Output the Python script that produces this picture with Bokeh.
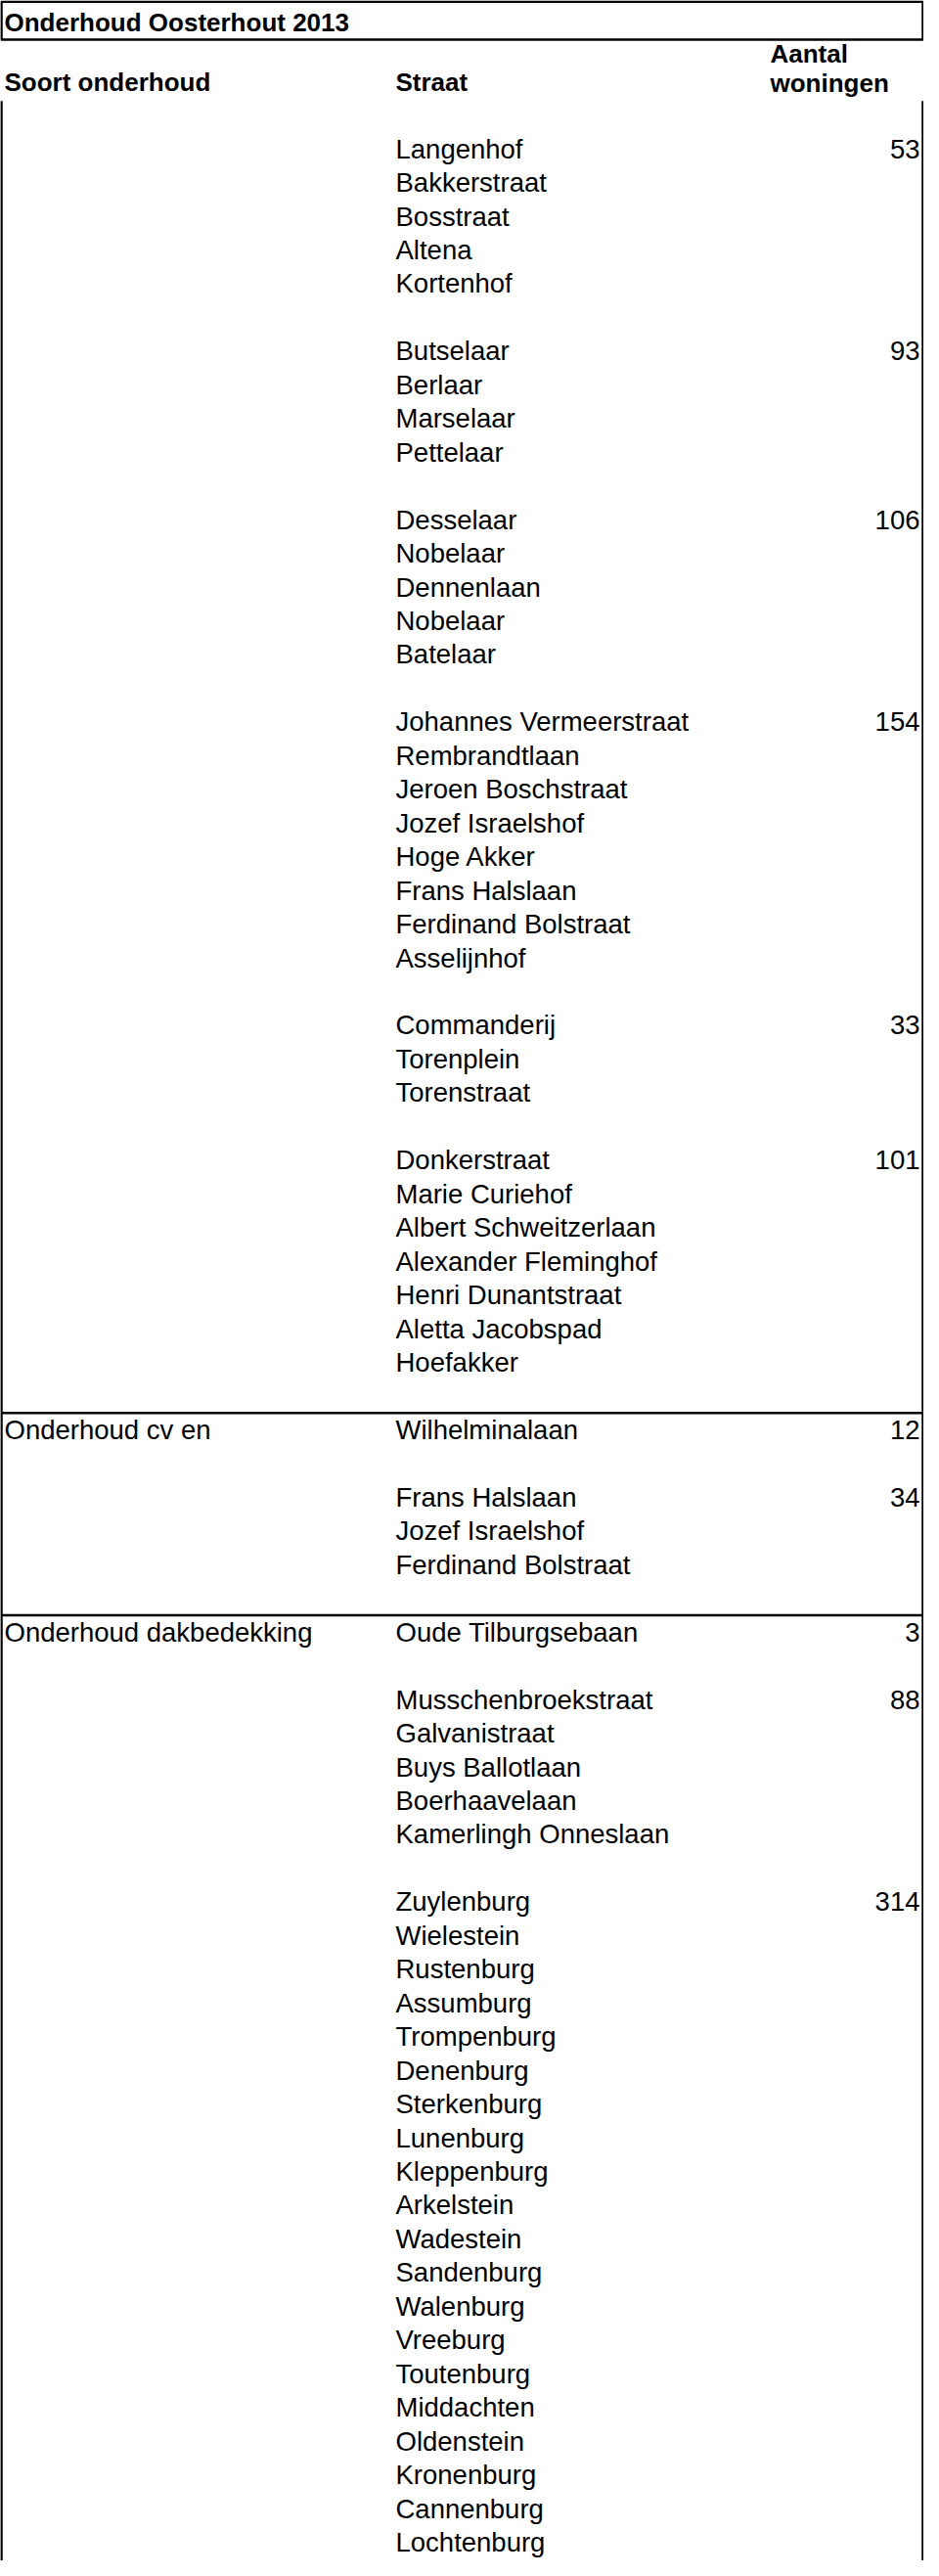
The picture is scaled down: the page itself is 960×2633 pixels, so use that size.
from bokeh.plotting import figure
from bokeh.models import Range1d, ColumnDataSource
from bokeh.core.properties import value
from bokeh.embed import file_html
from bokeh.resources import INLINE

# ---------------- data ----------------
titel = "Onderhoud Oosterhout 2013"
kolommen = ["Soort onderhoud", "Straat", "Aantal", "woningen"]

soort = ["", "", "", "", "", "", "Onderhoud cv en", "", "Onderhoud dakbedekking", "", ""]
straten = [
    ["Langenhof", "Bakkerstraat", "Bosstraat", "Altena", "Kortenhof"],
    ["Butselaar", "Berlaar", "Marselaar", "Pettelaar"],
    ["Desselaar", "Nobelaar", "Dennenlaan", "Nobelaar", "Batelaar"],
    ["Johannes Vermeerstraat", "Rembrandtlaan", "Jeroen Boschstraat", "Jozef Israelshof",
     "Hoge Akker", "Frans Halslaan", "Ferdinand Bolstraat", "Asselijnhof"],
    ["Commanderij", "Torenplein", "Torenstraat"],
    ["Donkerstraat", "Marie Curiehof", "Albert Schweitzerlaan", "Alexander Fleminghof",
     "Henri Dunantstraat", "Aletta Jacobspad", "Hoefakker"],
    ["Wilhelminalaan"],
    ["Frans Halslaan", "Jozef Israelshof", "Ferdinand Bolstraat"],
    ["Oude Tilburgsebaan"],
    ["Musschenbroekstraat", "Galvanistraat", "Buys Ballotlaan", "Boerhaavelaan",
     "Kamerlingh Onneslaan"],
    ["Zuylenburg", "Wielestein", "Rustenburg", "Assumburg", "Trompenburg", "Denenburg",
     "Sterkenburg", "Lunenburg", "Kleppenburg", "Arkelstein", "Wadestein", "Sandenburg",
     "Walenburg", "Vreeburg", "Toutenburg", "Middachten", "Oldenstein", "Kronenburg",
     "Cannenburg", "Lochtenburg"],
]
woningen = [53, 93, 106, 154, 33, 101, 12, 34, 3, 88, 314]

# ---------------- build table rows ----------------
st_rows, st_text = [], []
n_rows, n_text = [], []
c_rows, c_text = [], []
sep_rows = []
r = 0
for cat, streets, n in zip(soort, straten, woningen):
    if cat:
        sep_rows.append(r - 0.5)
        c_rows.append(r)
        c_text.append(cat)
    n_rows.append(r)
    n_text.append(str(n))
    for i, s in enumerate(streets):
        st_rows.append(r + i)
        st_text.append(s)
    r += len(streets) + 1

FONT = "Liberation Sans"
W, H = 944, 2617
p = figure(width=W, height=H, output_backend="svg", toolbar_location=None,
           x_range=Range1d(8, 952), y_range=Range1d(71.55, -4.40),
           min_border=0, outline_line_color=None)
p.axis.visible = False
p.grid.visible = False
p.background_fill_color = "white"
p.border_fill_color = "white"

X_CAT, X_STR, X_NUM, X_HDR3 = 12, 412, 948, 795
X_L, X_R = 9, 951

# title box
p.quad(left=[X_L], right=[X_R], top=[-4.365], bottom=[-3.24],
       fill_color=None, line_color="black", line_width=2.5)
p.text(x=[X_CAT], y=[-3.76], text=[titel], text_font=value(FONT),
       text_font_style="bold", text_font_size="26px", text_baseline="middle",
       text_align="left", text_color="black")

# header
p.text(x=[X_CAT, X_STR], y=[-1.965, -1.965], text=kolommen[:2], text_font=value(FONT),
       text_font_style="bold", text_font_size="26px", text_baseline="middle",
       text_align="left", text_color="black")
p.text(x=[X_HDR3, X_HDR3], y=[-2.83, -1.94], text=kolommen[2:], text_font=value(FONT),
       text_font_style="bold", text_font_size="26px", text_baseline="middle",
       text_align="left", text_color="black")

# borders
p.segment(x0=[X_L, X_R], x1=[X_L, X_R], y0=[-1.42, -1.42], y1=[72, 72],
          line_color="black", line_width=2.5)
p.segment(x0=[X_L] * len(sep_rows), x1=[X_R] * len(sep_rows), y0=sep_rows, y1=sep_rows,
          line_color="black", line_width=2.5)

# body
src_s = ColumnDataSource(dict(y=st_rows, t=st_text, x=[X_STR] * len(st_rows)))
p.text(x="x", y="y", text="t", source=src_s, text_font=value(FONT),
       text_font_size="27.5px", text_baseline="middle", text_align="left", text_color="black")
src_n = ColumnDataSource(dict(y=n_rows, t=n_text, x=[X_NUM] * len(n_rows)))
p.text(x="x", y="y", text="t", source=src_n, text_font=value(FONT),
       text_font_size="27.5px", text_baseline="middle", text_align="right", text_color="black")
src_c = ColumnDataSource(dict(y=c_rows, t=c_text, x=[X_CAT] * len(c_rows)))
p.text(x="x", y="y", text="t", source=src_c, text_font=value(FONT),
       text_font_size="27.5px", text_baseline="middle", text_align="left", text_color="black")

open("out.html", "w").write(file_html(p, INLINE))
